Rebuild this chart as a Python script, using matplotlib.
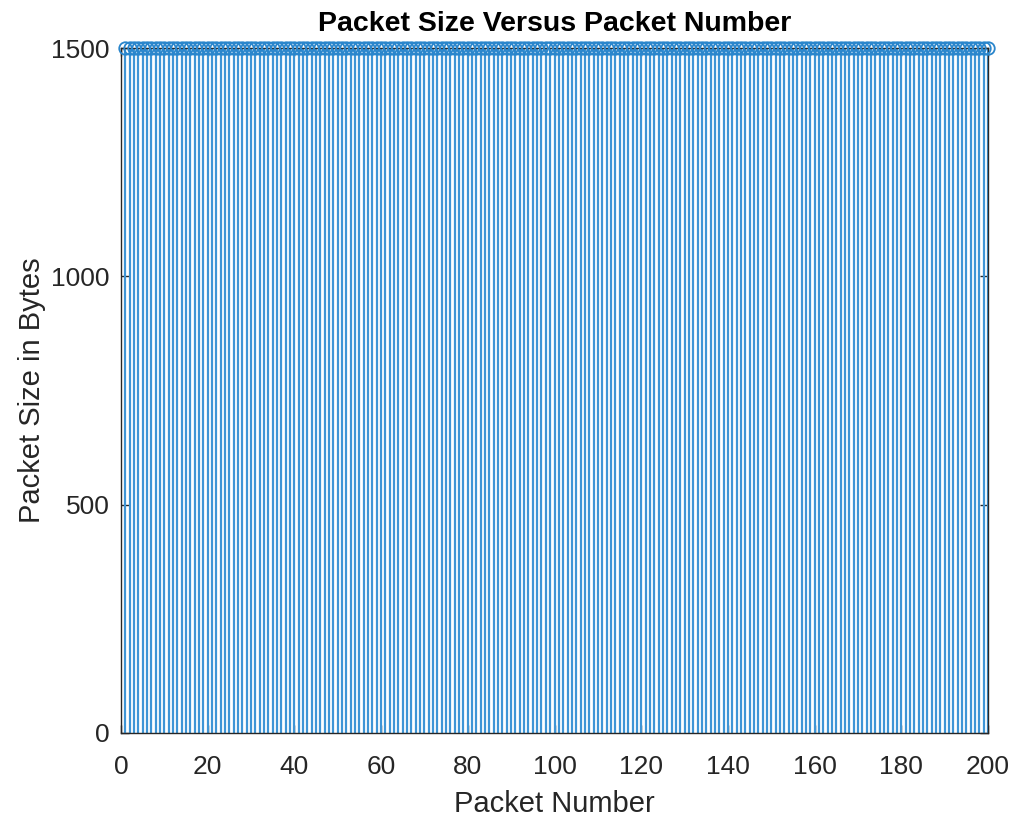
import matplotlib
matplotlib.use("Agg")
import matplotlib.pyplot as plt
import numpy as np

packet_number = list(range(1, 201))
packet_size = [1500] * 200
x_ticks = [0, 20, 40, 60, 80, 100, 120, 140, 160, 180, 200]
y_ticks = [0, 500, 1000, 1500]

plt.rcParams['font.family'] = ['Liberation Sans', 'DejaVu Sans']
fig = plt.figure(figsize=(10.13, 8.17), dpi=100)
ax = fig.add_axes([121/1013, 1-733/817, (988-121)/1013, (733-48)/817])

stem_blue = '#3e95d6'
ax.vlines(packet_number, 0, packet_size, color=stem_blue, linewidth=1.6)
ax.plot(packet_number, packet_size, 'o', mfc='none', mec='#2a86cc', ms=9, mew=1.3, clip_on=False, zorder=3)

ax.set_xlim(0, 200)
ax.set_ylim(0, 1500)
ax.set_xticks(x_ticks)
ax.set_yticks(y_ticks)
dark = '#262626'
ax.tick_params(direction='in', top=True, right=True, length=6, width=1, colors=dark,
               labelsize=19, labelcolor=dark)
ax.tick_params(axis='x', pad=16)
ax.tick_params(axis='y', pad=8)
for s in ax.spines.values():
    s.set_color(dark)
    s.set_linewidth(1.0)
ax.set_xlabel('Packet Number', fontsize=21, color=dark, labelpad=8)
ax.set_ylabel('Packet Size in Bytes', fontsize=21, color=dark, labelpad=4)
ax.set_title('Packet Size Versus Packet Number', fontsize=20.5, fontweight='bold', color='black', pad=12)
fig.savefig('out.png', dpi=100)
